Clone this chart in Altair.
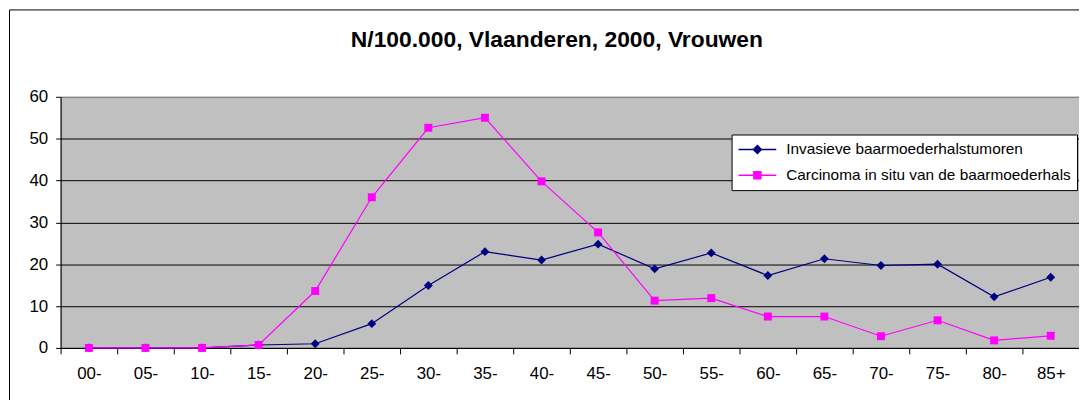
import altair as alt
import pandas as pd

ages = ["00-", "05-", "10-", "15-", "20-", "25-", "30-", "35-", "40-",
        "45-", "50-", "55-", "60-", "65-", "70-", "75-", "80-", "85+"]
invasive = [0.0, 0.0, 0.0, 0.7, 1.0, 5.8, 14.9, 23.0, 21.0,
            24.8, 18.9, 22.7, 17.3, 21.3, 19.7, 20.0, 12.2, 16.9]
cis = [0.0, 0.0, 0.0, 0.7, 13.6, 36.0, 52.6, 55.0, 39.8,
       27.6, 11.3, 11.9, 7.5, 7.5, 2.8, 6.6, 1.8, 2.9]
series_names = ["Invasieve baarmoederhalstumoren",
                "Carcinoma in situ van de baarmoederhals"]
series_colors = ["#000080", "#FF00FF"]
series_shapes = ["diamond", "square"]
series_sizes = [80, 64]
y_ticks = [0, 10, 20, 30, 40, 50, 60]
title_text = "N/100.000, Vlaanderen, 2000, Vrouwen"

# legend symbols: a line with the marker in the middle
legend_symbols = [
    "M-2.375,0L2.375,0M0,-0.5L0.5,0L0,0.5L-0.5,0Z",
    "M-2.375,0L2.375,0M-0.44,-0.44L0.44,-0.44L0.44,0.44L-0.44,0.44Z",
]

rows = []
for a, v in zip(ages, invasive):
    rows.append({"age": a, "serie": series_names[0], "value": v})
for a, v in zip(ages, cis):
    rows.append({"age": a, "serie": series_names[1], "value": v})
df = pd.DataFrame(rows)

FONT = "Liberation Sans"

x = alt.X(
    "age:N", sort=ages,
    scale=alt.Scale(type="band", paddingInner=0, paddingOuter=0),
    axis=alt.Axis(title=None, labelAngle=0, tickBand="extent",
                  domainColor="black", tickColor="black", tickSize=6,
                  labelFontSize=17, labelColor="black", labelFont=FONT,
                  labelPadding=12, grid=False),
)
y = alt.Y(
    "value:Q",
    scale=alt.Scale(domain=[0, 60], nice=False, zero=True),
    axis=alt.Axis(title=None, values=y_ticks, domainColor="black",
                  tickColor="black", tickSize=5, labelFontSize=17,
                  labelColor="black", labelFont=FONT, labelPadding=8,
                  grid=True,
                  gridColor=alt.condition("datum.value >= 60",
                                          alt.value("#808080"),
                                          alt.value("#000000")),
                  gridWidth=1),
)

base = alt.Chart(df)

series_layers = []
for name, col in zip(series_names, series_colors):
    sub = base.transform_filter(alt.datum.serie == name)
    series_layers.append(
        sub.mark_line(strokeWidth=1.2, color=col).encode(x=x, y=y))
for name, col, shp, sz in zip(series_names, series_colors, series_shapes, series_sizes):
    sub = base.transform_filter(alt.datum.serie == name)
    series_layers.append(
        sub.mark_point(shape=shp, filled=True, size=sz, opacity=1, color=col)
        .encode(x=x, y=y))

leg = alt.Legend(title=None, orient="none", legendX=676, legendY=38,
                 fillColor="white", strokeColor="black", padding=6,
                 labelFont=FONT, labelFontSize=15.5, labelColor="black",
                 labelLimit=400,
                 symbolSize=256, symbolOffset=11, labelOffset=20,
                 rowPadding=8, symbolStrokeWidth=1.5, symbolOpacity=1)

# legend-only layer: no data rows are drawn, the scales carry the domain
legend_layer = base.transform_filter("datum.value < -1000").mark_point(
    filled=True, opacity=1, size=256
).encode(
    x=x, y=y,
    fill=alt.Fill("serie:N",
                  scale=alt.Scale(domain=series_names, range=series_colors),
                  legend=leg),
    stroke=alt.Stroke("serie:N",
                      scale=alt.Scale(domain=series_names, range=series_colors),
                      legend=leg),
    shape=alt.Shape("serie:N",
                    scale=alt.Scale(domain=series_names, range=legend_symbols),
                    legend=leg),
)

frame = alt.Chart(pd.DataFrame({"k": [0]})).mark_rect(
    fillOpacity=0, stroke="black", strokeWidth=1
).encode(x=alt.value(-51.5), x2=alt.value(1400),
         y=alt.value(-87.5), y2=alt.value(800))

chart = alt.layer(frame, *series_layers, legend_layer).properties(
    width=1026, height=253,
    padding={"left": 53, "top": 88, "right": 0, "bottom": 51},
    autosize=alt.AutoSizeParams(type="none"),
    background="white",
    title=alt.Title(title_text, fontSize=23, fontWeight="bold", font=FONT,
                    color="black", anchor="middle", dx=-13,
                    baseline="alphabetic", offset=-61.3),
).configure_view(fill="#C0C0C0", stroke="#808080", strokeWidth=1)

chart.save("out.html", embed_options={"renderer": "svg", "actions": False})
